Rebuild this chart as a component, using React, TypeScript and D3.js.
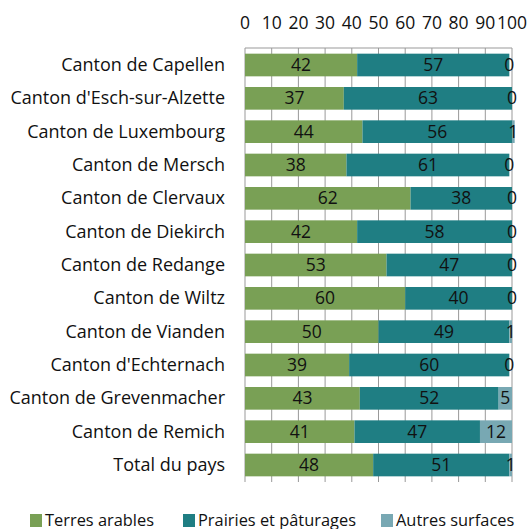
import React from "react";
import * as d3 from "d3";

const categories = [
  "Canton de Capellen",
  "Canton d'Esch-sur-Alzette",
  "Canton de Luxembourg",
  "Canton de Mersch",
  "Canton de Clervaux",
  "Canton de Diekirch",
  "Canton de Redange",
  "Canton de Wiltz",
  "Canton de Vianden",
  "Canton d'Echternach",
  "Canton de Grevenmacher",
  "Canton de Remich",
  "Total du pays",
];
const terresArables = [42, 37, 44, 38, 62, 42, 53, 60, 50, 39, 43, 41, 48];
const prairies = [57, 63, 56, 61, 38, 58, 47, 40, 49, 60, 52, 47, 51];
const autres = [0, 0, 1, 0, 0, 0, 0, 0, 1, 0, 5, 12, 1];
const seriesNames = ["Terres arables", "Prairies et pâturages", "Autres surfaces"];
const colors = ["#79a055", "#1f7e83", "#78a8b3"];
const ticks = [0, 10, 20, 30, 40, 50, 60, 70, 80, 90, 100];

export default function App() {
  const W = 529, H = 529;
  const left = 245, right = 512, top = 48, bottom = 482;
  const font = "'Open Sans', sans-serif";
  const fs = 17.5;
  const x = d3.scaleLinear().domain([0, 100]).range([left, right]);
  const y = d3.scaleBand<string>().domain(categories).range([top, bottom]).paddingInner(0.32).paddingOuter(0.17);
  const series = [terresArables, prairies, autres];
  const legendX = [30, 183, 381];
  return (
    <svg width={W} height={H} style={{ position: "absolute", left: 0, top: 0 }}>
      <rect width={W} height={H} fill="#fff" />
      {ticks.map((t) => (
        <line key={"g" + t} x1={x(t)} x2={x(t)} y1={top} y2={bottom} stroke="#999" strokeWidth={1} />
      ))}
      <line x1={x(0)} x2={x(100)} y1={top} y2={top} stroke="#999" strokeWidth={1} />
      {ticks.map((t) => (
        <text key={"t" + t} x={x(t)} y={29} textAnchor="middle" fontFamily={font} fontSize={fs} fill="#111">
          {t}
        </text>
      ))}
      {categories.map((c, i) => {
        let acc = 0;
        const yy = y(c)!;
        const bh = y.bandwidth();
        return (
          <g key={c}>
            <text x={225} y={yy + bh / 2 + 6} textAnchor="end" fontFamily={font} fontSize={18} fill="#111">
              {c}
            </text>
            {series.map((s, k) => {
              const v = s[i];
              const x0 = x(acc);
              acc += v;
              const x1 = x(acc);
              return (
                <g key={k}>
                  <rect x={x0} y={yy} width={Math.max(0, x1 - x0)} height={bh} fill={colors[k]} />
                  <text x={(x0 + x1) / 2} y={yy + bh / 2 + 6} textAnchor="middle" fontFamily={font} fontSize={fs} fill="#111">
                    {v}
                  </text>
                </g>
              );
            })}
          </g>
        );
      })}
      {seriesNames.map((n, k) => (
        <g key={n}>
          <rect x={legendX[k]} y={514} width={12} height={13} fill={colors[k]} />
          <text x={legendX[k] + 15} y={526} fontFamily={font} fontSize={16.4} fill="#111">
            {n}
          </text>
        </g>
      ))}
    </svg>
  );
}
